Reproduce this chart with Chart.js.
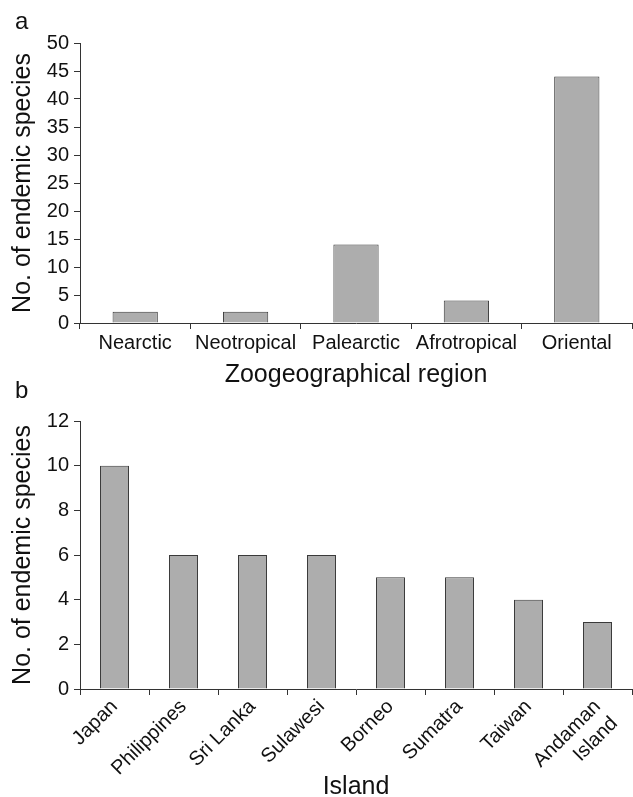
<!DOCTYPE html>
<html>
<head>
<meta charset="utf-8">
<script src="https://cdn.jsdelivr.net/npm/chart.js@4"></script>
<style>
html, body { margin:0; padding:0; background:#fff; overflow:hidden; }
#wrapA { position:absolute; left:0; top:0; width:633px; height:400px; }
#wrapB { position:absolute; left:0; top:380px; width:633px; height:430px; }
.panel { position:absolute; font:24px "Liberation Sans", Arial, sans-serif; line-height:24px; color:#111; }
</style>
</head>
<body>
<div id="wrapA"><canvas id="chartA" width="633" height="400"></canvas></div>
<div id="wrapB"><canvas id="chartB" width="633" height="430"></canvas></div>
<div class="panel" style="left:15px;top:9px">a</div>
<div class="panel" style="left:15px;top:378px">b</div>
<script>
// panel a
const regions = ['Nearctic', 'Neotropical', 'Palearctic', 'Afrotropical', 'Oriental'];
const regionCounts = [2, 2, 14, 4, 44];
const regionAxis = [0, 50, 5];   // min, max, step

// panel b
const islands = ['Japan', 'Philippines', 'Sri Lanka', 'Sulawesi', 'Borneo', 'Sumatra', 'Taiwan', ['Andaman', 'Island']];
const islandCounts = [10, 6, 6, 6, 5, 5, 4, 3];
const islandAxis = [0, 12, 2];

const yTitle = 'No. of endemic species';
const FONT = '"Liberation Sans", Arial, sans-serif';
const INK = '#111';
const AXIS = '#333';

Chart.defaults.font.family = FONT;
Chart.defaults.color = INK;

function makeChart(id, labels, values, axis, xTitle, o) {
  const ctx = document.getElementById(id).getContext('2d');
  return new Chart(ctx, {
    type: 'bar',
    data: {
      labels: labels,
      datasets: [{
        data: values,
        backgroundColor: '#adadad',
        borderColor: '#3a3a3a',
        borderWidth: 1,
        categoryPercentage: 1,
        barPercentage: o.bar
      }]
    },
    options: {
      responsive: false,
      animation: false,
      layout: { padding: { top: o.top, right: 1, left: 0, bottom: 0 } },
      plugins: { legend: { display: false }, tooltip: { enabled: false } },
      scales: {
        x: {
          grid: { drawOnChartArea: false, tickLength: 6, color: AXIS },
          border: { color: AXIS, width: 1 },
          ticks: {
            color: INK, font: { size: 20 }, padding: o.xpad, autoSkip: false,
            minRotation: o.rot, maxRotation: o.rot
          },
          title: { display: true, text: xTitle, color: INK, font: { size: 25 }, padding: { top: 0, bottom: o.tpad } },
          afterFit(s) { s.height = o.xh; }
        },
        y: {
          min: axis[0], max: axis[1],
          grid: { drawOnChartArea: false, tickLength: 6, color: AXIS },
          border: { color: AXIS, width: 1 },
          ticks: { stepSize: axis[2], color: INK, font: { size: 20 }, padding: 5 },
          title: { display: true, text: yTitle, color: INK, font: { size: 25 }, padding: { top: 8, bottom: 0 } },
          afterFit(s) { s.width = 80; }
        }
      }
    }
  });
}

makeChart('chartA', regions, regionCounts, regionAxis, 'Zoogeographical region',
  { top: 43, xh: 77, xpad: 2, tpad: 10, rot: 0, bar: 0.41 });
makeChart('chartB', islands, islandCounts, islandAxis, 'Island',
  { top: 41, xh: 121, xpad: 0, tpad: 8, rot: 45, bar: 0.42 });
</script>
</body>
</html>
